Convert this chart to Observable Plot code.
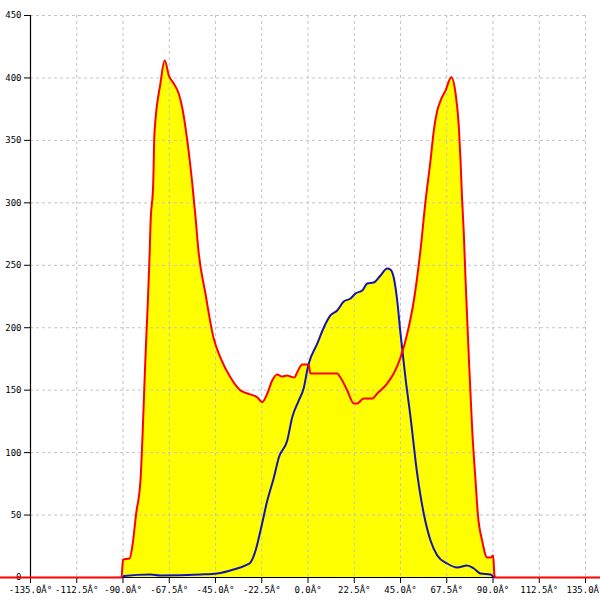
<!DOCTYPE html>
<html><head><meta charset="utf-8">
<script src="https://cdn.jsdelivr.net/npm/d3@7"></script>
<script src="https://cdn.jsdelivr.net/npm/@observablehq/plot@0.6"></script>
<style>body{margin:0;background:#fff}</style>
</head><body><div id="chart"></div>
<script>
const redAngle = [-150,-90.7,-90.0,-86.8,-85.4,-83.6,-81.5,-79.1,-77.0,-76.6,-75.3,-74.7,-71.8,-69.7,-67.7,-65.3,-62.9,-61.2,-59.6,-58.1,-56.3,-54.7,-53.3,-49.9,-46.0,-42.6,-37.7,-32.8,-29.4,-24.6,-22.3,-19.8,-17.4,-15.0,-12.6,-10.1,-8.5,-6.6,-5.3,-2.8,-0.4,0.4,1.2,4.5,9.3,14.2,15.8,19.1,22.3,23.9,27.1,31.2,33.7,38.5,41.7,45.0,48.3,51.5,54.7,57.2,59.6,61.2,62.9,64.5,66.9,69.7,71.8,73.4,74.2,75.0,75.8,76.6,78.1,79.9,81.5,82.6,84.7,87.2,88.8,90.1,90.7,91.2,150];
const redValue = [0,0,14.4,15.2,25.6,51.2,77.7,175,261.8,283.4,315.5,355.5,395.5,413.9,401.9,395.5,387.5,376.3,360.3,341.9,315.5,288.2,261.8,227.4,192.2,176.1,160.1,149.7,147.3,144.1,140.4,147.3,157.7,162.5,160.9,161.7,160.9,160.1,164.1,170.5,170.5,169.7,163.3,163.3,163.3,163.3,160.1,149.7,139.3,139.3,143.3,143.3,147.3,155.3,163.3,176.1,195.4,221.8,261.8,301.8,333.9,357.9,373.9,381.9,389.9,400.6,387.5,360.3,333.9,301.8,275.4,240.2,181.7,117.7,77.7,51.2,29.6,16.0,16.0,17.6,1.6,0,0];
const blueAngle = [-90.2,-89.5,-76.6,-71.8,-52.3,-44.2,-36.2,-29.6,-28.0,-25.5,-23.1,-19.8,-16.6,-14.2,-10.1,-7.7,-4.5,-2.0,-0.4,0.4,4.5,7.7,10.9,14.2,17.4,20.7,23.1,26.4,28.8,32.0,35.3,38.5,40.1,41.7,43.4,45.0,47.4,49.9,53.1,56.3,59.6,62.9,67.7,72.6,77.4,80.7,83.9,88.8,90.4];
const blueValue = [0,1.2,2.4,1.6,2.4,3.2,6.4,10.4,12.0,21.6,37.6,61.6,80.1,96.1,109.7,128.1,141.7,152.1,165.7,171.3,187.3,200.2,209.8,213.8,221.0,223.4,227.4,229.8,235.4,236.2,241.8,247.4,246.6,240.2,221.8,195.4,160.1,128.1,83.3,51.2,29.6,17.6,11.2,8.0,9.6,7.2,3.2,2.4,0];
const xTicks = [-135,-112.5,-90,-67.5,-45,-22.5,0,22.5,45,67.5,90,112.5,135];
const yTicks = [0,50,100,150,200,250,300,350,400,450];

const red = redAngle.map((a,i)=>({a, v: redValue[i]}));
const blue = blueAngle.map((a,i)=>({a, v: blueValue[i]}));
const fmt = d => d.toFixed(1) + "Â°";
const curve = "monotone-x";

const chart = Plot.plot({
  width: 600, height: 600,
  marginLeft: 30, marginRight: 15, marginTop: 15, marginBottom: 23,
  style: {fontFamily: "DejaVu Sans Mono", fontSize: "9px", background: "#fff", overflow: "visible"},
  x: {domain: [-135,135]},
  y: {domain: [0,450]},
  marks: [
    Plot.areaY(red, {x: "a", y: "v", fill: "#ffff00", curve}),
    Plot.areaY(blue, {x: "a", y: "v", fill: "#ffff00", curve}),
    Plot.ruleY(yTicks.slice(1), {stroke: "#c4c4c4", strokeDasharray: "3,3", strokeWidth: 1}),
    Plot.ruleX(xTicks.slice(1), {stroke: "#c4c4c4", strokeDasharray: "3,3", strokeWidth: 1}),
    Plot.axisX({ticks: xTicks, tickFormat: fmt, tickSize: 6, tickPadding: 3, stroke: "#000", fill: "#000", label: null}),
    Plot.axisY({ticks: yTicks, tickFormat: d => String(d), tickSize: 6, tickPadding: 3, fill: "#000", label: null}),
    Plot.ruleX([-135], {stroke: "#000", strokeWidth: 1.2}),
    Plot.ruleY([0], {stroke: "#000"}),
    Plot.line(blue, {x: "a", y: "v", stroke: "#1414b4", strokeWidth: 2, curve}),
    Plot.line(red, {x: "a", y: "v", stroke: "#ff0000", strokeWidth: 2, curve})
  ]
});
document.getElementById("chart").appendChild(chart);
</script>
</body></html>
